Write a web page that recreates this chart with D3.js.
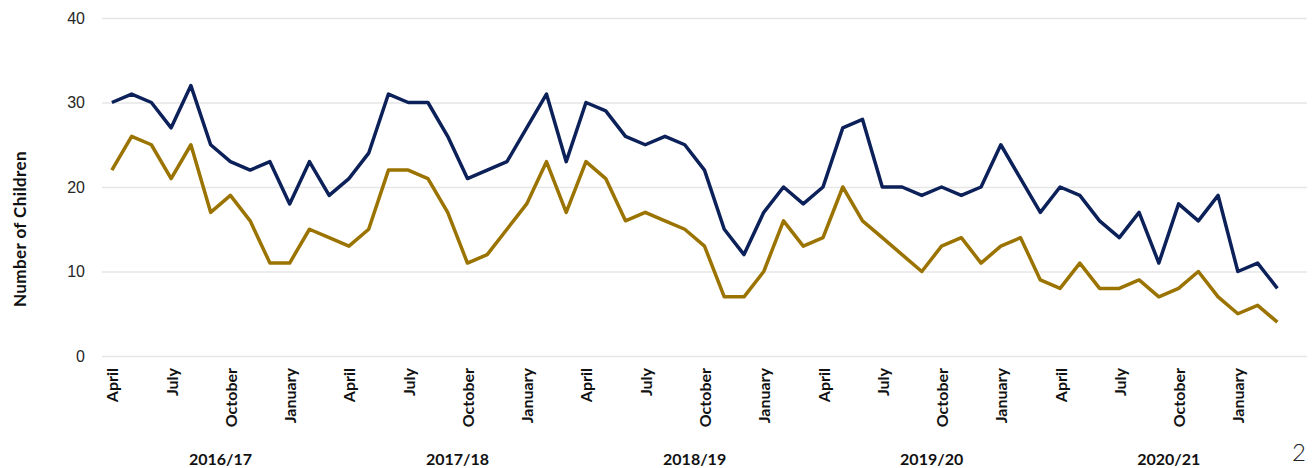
<!DOCTYPE html>
<html>
<head>
<meta charset="utf-8">
<script src="https://cdn.jsdelivr.net/npm/d3@7"></script>
<style>
  body { margin: 0; background: #fff; }
  svg { display: block; font-family: Lato, "Open Sans", sans-serif; }
</style>
</head>
<body>
<div id="chart"></div>
<script>
'use strict';
// months April 2016 .. March 2021
var monthNames = ['April', 'May', 'June', 'July', 'August', 'September',
    'October', 'November', 'December', 'January', 'February', 'March'];
var labelMonths = ['April', 'July', 'October', 'January'];
var years = ['2016/17', '2017/18', '2018/19', '2019/20', '2020/21'];

var totalSeries = [30, 31, 30, 27, 32, 25, 23, 22, 23, 18, 23, 19,
    21, 24, 31, 30, 30, 26, 21, 22, 23, 27, 31, 23,
    30, 29, 26, 25, 26, 25, 22, 15, 12, 17, 20, 18,
    20, 27, 28, 20, 20, 19, 20, 19, 20, 25, 21, 17,
    20, 19, 16, 14, 17, 11, 18, 16, 19, 10, 11, 8];
var subSeries = [22, 26, 25, 21, 25, 17, 19, 16, 11, 11, 15, 14,
    13, 15, 22, 22, 21, 17, 11, 12, 15, 18, 23, 17,
    23, 21, 16, 17, 16, 15, 13, 7, 7, 10, 16, 13,
    14, 20, 16, 14, 12, 10, 13, 14, 11, 13, 14, 9,
    8, 11, 8, 8, 9, 7, 8, 10, 7, 5, 6, 4];
var yTicks = [0, 10, 20, 30, 40];

var width = 1312,
    height = 468;
var margin = {left: 102, right: 5, top: 18, bottom: 112};

var months = [];
years.forEach(function (y) {
    monthNames.forEach(function (m) {
        months.push({year: y, month: m});
    });
});

var svg = d3.select('#chart').append('svg')
    .attr('width', width)
    .attr('height', height);

// one empty slot after the last month, as in the original axis
var x = d3.scaleBand()
    .domain(d3.range(months.length + 1))
    .range([margin.left, width - margin.right]);
var cx = function (i) { return x(i) + x.bandwidth() / 2; };

var y = d3.scaleLinear()
    .domain([0, 40])
    .range([height - margin.bottom, margin.top]);

// grid + y axis
var yAxis = svg.append('g')
    .attr('transform', 'translate(' + margin.left + ',0)')
    .call(d3.axisLeft(y).tickValues(yTicks).tickSize(-(width - margin.left - margin.right)).tickPadding(17));
yAxis.select('.domain').remove();
yAxis.selectAll('.tick line').attr('stroke', '#e6e6e6').attr('stroke-width', 1.3);
yAxis.selectAll('.tick text')
    .attr('fill', '#262626')
    .style('font-size', '16px');

svg.append('text')
    .attr('transform', 'translate(26,' + 229 + ') rotate(-90)')
    .attr('text-anchor', 'middle')
    .style('font-size', '17px')
    .style('font-weight', 'bold')
    .style('letter-spacing', '0.4px')
    .attr('fill', '#111')
    .text('Number of Children');

// month labels
svg.append('g').selectAll('text')
    .data(months.map(function (d, i) { return {d: d, i: i}; })
        .filter(function (o) { return labelMonths.indexOf(o.d.month) >= 0; }))
    .enter().append('text')
    .attr('transform', function (o) {
        return 'translate(' + (cx(o.i) + 6.5) + ',' + 368 + ') rotate(-90)';
    })
    .attr('text-anchor', 'end')
    .style('font-size', '16px')
    .style('font-weight', 'bold')
    .attr('fill', '#111')
    .text(function (o) { return o.d.month; });

// year labels
svg.append('g').selectAll('text')
    .data(years)
    .enter().append('text')
    .attr('x', function (yr, k) {
        return (cx(k * 12) + cx(k * 12 + 11)) / 2;
    })
    .attr('y', 465)
    .attr('text-anchor', 'middle')
    .style('font-size', '16px')
    .style('font-weight', 'bold')
    .attr('fill', '#111')
    .text(function (yr) { return yr; });

var line = d3.line()
    .x(function (d, i) { return cx(i); })
    .y(function (d) { return y(d); });

svg.append('path')
    .datum(subSeries)
    .attr('fill', 'none')
    .attr('stroke', '#9a7300')
    .attr('stroke-width', 3.5)
    .attr('stroke-linejoin', 'round')
    .attr('d', line);

svg.append('path')
    .datum(totalSeries)
    .attr('fill', 'none')
    .attr('stroke', '#0c2159')
    .attr('stroke-width', 3.5)
    .attr('stroke-linejoin', 'round')
    .attr('d', line);

// page number
svg.append('text')
    .attr('x', 1292)
    .attr('y', 461)
    .style('font-size', '24px')
    .style('font-weight', '300')
    .attr('fill', '#222')
    .text('2');
</script>
</body>
</html>
